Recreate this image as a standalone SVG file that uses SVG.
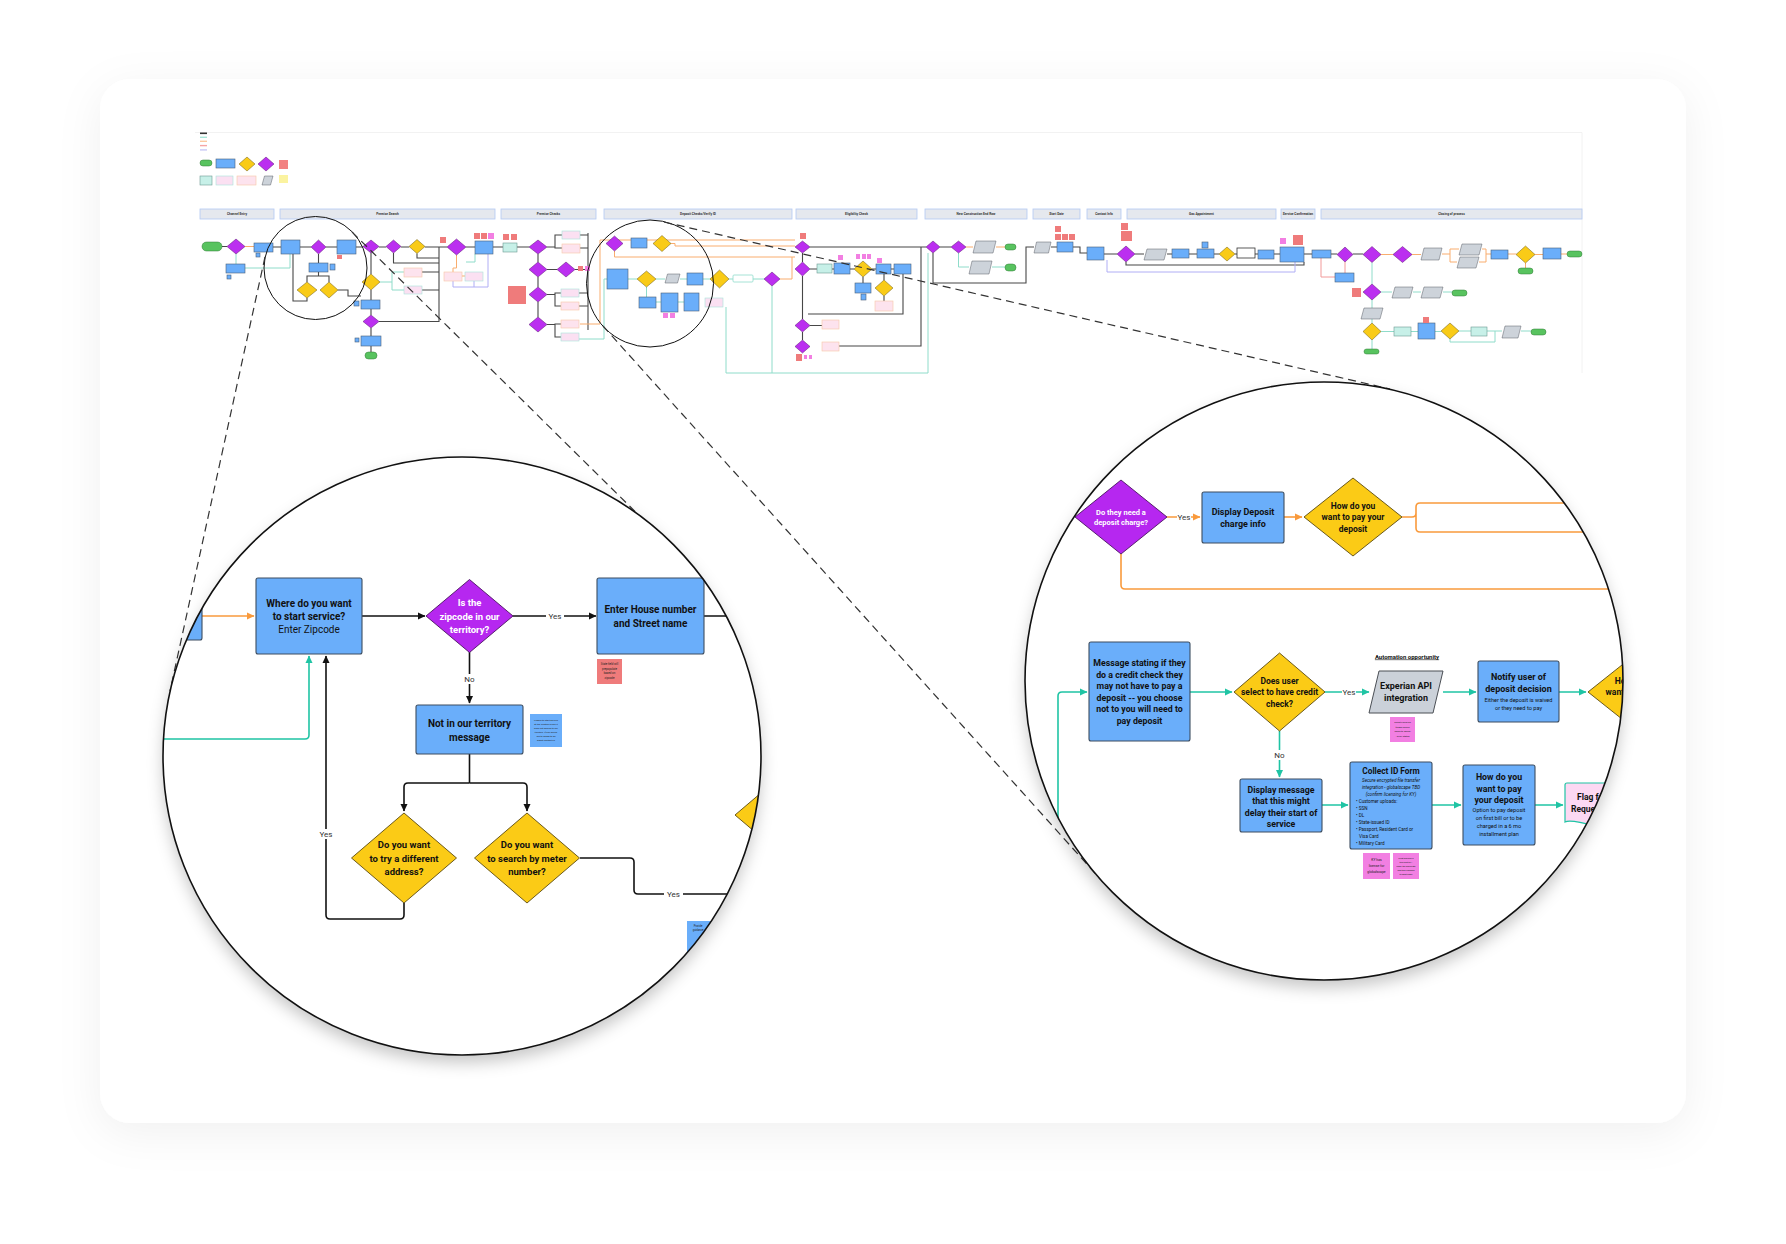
<svg xmlns="http://www.w3.org/2000/svg" width="1786" height="1244" viewBox="0 0 1786 1244">
<defs>
<style>
.nb{fill:#6aaefa;stroke:#3c4d60;stroke-width:1.1}
.np{fill:#b627f0;stroke:#4a1460;stroke-width:0.9}
.ny{fill:#fbcb16;stroke:#5a4a10;stroke-width:0.9}
.ng{fill:#cbd1d9;stroke:#4b4f55;stroke-width:1}
.mb{fill:#6aaefa;stroke:#4a6078;stroke-width:0.6}
.mp{fill:#bb2ff0;stroke:#5a1a70;stroke-width:0.5}
.my{fill:#f9cb17;stroke:#6b5a1a;stroke-width:0.5}
.mg{fill:#cdd3da;stroke:#5b5f66;stroke-width:0.5}
.mgr{fill:#58c35f;stroke:#2f7a35;stroke-width:0.5}
.mt{fill:#c7f0e8;stroke:#6d9a92;stroke-width:0.6}
.mdt{fill:#fbe0f2;stroke:#a9e3da;stroke-width:0.6}
.mdo{fill:#fde3ee;stroke:#f8c7a5;stroke-width:0.6}
.rn{fill:#ef7b7b}
.pn{fill:#f27fe2}
.hb{fill:#e5e8ee;stroke:#b2c9f2;stroke-width:0.8}
.ht{font-family:Roboto,"Liberation Sans",sans-serif;font-size:3.2px;font-weight:700;fill:#333;text-anchor:middle;dominant-baseline:central}
.lk{fill:none;stroke:#474747;stroke-width:1.1}
.lt{fill:none;stroke:#8fdcca;stroke-width:1}
.lo{fill:none;stroke:#f9ad6e;stroke-width:1}
.ll{fill:none;stroke:#b0aef5;stroke-width:1}
.lr{fill:none;stroke:#f29a9a;stroke-width:1}
.ck{fill:none;stroke:#111;stroke-width:1.6;stroke-linejoin:round}
.co{fill:none;stroke:#f99a3c;stroke-width:1.6;stroke-linejoin:round}
.ct{fill:none;stroke:#1fc4a4;stroke-width:1.6;stroke-linejoin:round}
.tb{font-family:Roboto,"Liberation Sans",sans-serif;font-weight:700;fill:#111;text-anchor:middle;dominant-baseline:central}
.tn{font-family:Roboto,"Liberation Sans",sans-serif;font-weight:400;fill:#111;text-anchor:middle;dominant-baseline:central}
.tw{font-family:Roboto,"Liberation Sans",sans-serif;font-weight:700;fill:#fff;text-anchor:middle;dominant-baseline:central}
.lab{font-family:Roboto,"Liberation Sans",sans-serif;font-size:8px;fill:#333;text-anchor:middle;dominant-baseline:central}
.tiny{font-family:Roboto,"Liberation Sans",sans-serif;fill:#222;text-anchor:middle;dominant-baseline:central}
.dash{fill:none;stroke:#333;stroke-width:1.2;stroke-dasharray:8 5}
</style>
<marker id="ak" markerWidth="8" markerHeight="8" refX="7" refY="4" orient="auto" markerUnits="userSpaceOnUse"><path d="M0,0.5 L7.5,4 L0,7.5 z" fill="#111"/></marker>
<marker id="ao" markerWidth="8" markerHeight="8" refX="7" refY="4" orient="auto" markerUnits="userSpaceOnUse"><path d="M0,0.5 L7.5,4 L0,7.5 z" fill="#f99a3c"/></marker>
<marker id="at" markerWidth="8" markerHeight="8" refX="7" refY="4" orient="auto" markerUnits="userSpaceOnUse"><path d="M0,0.5 L7.5,4 L0,7.5 z" fill="#1fc4a4"/></marker>
<filter id="cs" x="-10%" y="-10%" width="120%" height="125%"><feDropShadow dx="0" dy="10" stdDeviation="22" flood-color="#000" flood-opacity="0.06"/></filter>
<filter id="sh" x="-20%" y="-20%" width="140%" height="150%"><feDropShadow dx="0" dy="8" stdDeviation="8" flood-color="#000" flood-opacity="0.22"/></filter>
<clipPath id="cL"><circle cx="462" cy="756" r="299"/></clipPath>
<clipPath id="cR"><circle cx="1324" cy="681" r="299"/></clipPath>
</defs>

<rect x="0" y="0" width="1786" height="1244" fill="#ffffff"/>
<rect id="card" x="100" y="79" width="1586" height="1044" rx="30" fill="#ffffff" filter="url(#cs)"/>

<g id="minimap">
<path d="M195 132.5H1582V373" fill="none" stroke="#efefef" stroke-width="0.8"/>
<g id="legend">
<rect x="200" y="132.5" width="7" height="1.6" fill="#333"/>
<rect x="200" y="136.6" width="7" height="1.4" fill="#a8e6d8"/>
<rect x="200" y="140.6" width="7" height="1.4" fill="#fbc9a0"/>
<rect x="200" y="144.9" width="7" height="1.4" fill="#f6a5a5"/>
<rect x="200" y="149.2" width="7" height="1.4" fill="#c9c9f5"/>
<rect x="200" y="160" width="12" height="6" rx="3" class="mgr"/>
<rect x="216" y="159" width="19" height="9" class="mb"/>
<polygon points="239,164 247,157 255,164 247,171" class="my"/>
<polygon points="258,164 266,157 274,164 266,171" class="mp"/>
<rect x="279" y="160" width="9" height="9" fill="#f28282"/>
<rect x="200" y="176" width="12" height="9" class="mt"/>
<rect x="216" y="176" width="17" height="9" class="mdt"/>
<rect x="237" y="176" width="19" height="9" class="mdo"/>
<polygon points="264.5,176 273,176 270.5,185 262,185" class="mg"/>
<rect x="279" y="175" width="9" height="8" fill="#fbf3a0"/>
</g>
<g id="headers">
<rect x="200" y="209" width="74" height="10" class="hb"/><text x="237" y="214" class="ht">Channel Entry</text>
<rect x="280" y="209" width="215" height="10" class="hb"/><text x="387.5" y="214" class="ht">Premise Search</text>
<rect x="501" y="209" width="95" height="10" class="hb"/><text x="548.5" y="214" class="ht">Premise Checks</text>
<rect x="604" y="209" width="188" height="10" class="hb"/><text x="698" y="214" class="ht">Deposit Checks/Verify ID</text>
<rect x="796" y="209" width="121" height="10" class="hb"/><text x="856.5" y="214" class="ht">Eligibility Check</text>
<rect x="925" y="209" width="102" height="10" class="hb"/><text x="976" y="214" class="ht">New Construction End Row</text>
<rect x="1033" y="209" width="47" height="10" class="hb"/><text x="1056.5" y="214" class="ht">Start Date</text>
<rect x="1087" y="209" width="34" height="10" class="hb"/><text x="1104" y="214" class="ht">Contact Info</text>
<rect x="1127" y="209" width="149" height="10" class="hb"/><text x="1201.5" y="214" class="ht">Gas Appointment</text>
<rect x="1281" y="209" width="34" height="10" class="hb"/><text x="1298" y="214" class="ht">Service Confirmation</text>
<rect x="1321" y="209" width="261" height="10" class="hb"/><text x="1451.5" y="214" class="ht">Closing of process</text>
</g>

<g id="mini-connectors">
<path class="lk" d="M222 246.5H227M273 247H281M300 247H311M326 247H337M356 247H363M379 247H386M401 247H409M425 247H447M466 247H475M493 247H503M517 247H529"/>
<path class="lo" d="M245 246.5H254"/>
<path class="lt" d="M236 254V264M245 268H290V254"/>
<path class="lk" d="M318.5 254V263M318.5 272V276H307V282M318.5 276H329V282M307 298V301H293V254M338 290H348V296H361"/>
<path class="lk" d="M371 253V274M371 290V300M371 309V315M371 328V336M371 346V352M379 321.5H439V247M393.5 253V263H439M422 272H439M422 290H439M417 253.5V258H439"/>
<path class="lt" d="M380 282H392V272H404M392 282V290H404"/>
<path class="lo" d="M456.5 255V268H453V272M462 276H465"/>
<path class="ll" d="M453 281V287H488V254M474 281V287"/>
<path class="lt" d="M466 262H475V254"/>
<path class="lk" d="M547 247H555V235H562M555 247V248H562M547 269.5H557M575 269.5H588M580 235H588M580 248H588M588 233V330M547 294.5H555V293H561M555 294.5V306H561M579 293H588M579 306H588M547 324.5H555V324H561M555 324.5V337H561"/>
<path class="lk" d="M538 254V262M538 277V287M538 302V317"/>
<path class="lo" d="M580 324H600V240H795M671 243.5H675V246H795M614.5 251V257H795M780 279H792V257"/>
<path class="lt" d="M566 339H604V279H607M628 279H637M656 279H665M680 279H687M703 279H710M729 279H733M753 279H764M646.5 287V297M656 302H661M678 302H684M726 307V373H928V253M772 286V373"/>
<path class="lk" d="M810 247H926M921 247V346H839M808 314H903V274M802.5 253V262M802.5 276V319M802.5 332V340M810 269H817M832 269H834M850 269H854M872 269H876M891 269H894M863 277V283M884 296V301M884 280V274M810 325.5H822"/>
<path class="lk" d="M940 247H951M933 253V283H1026V247H1034M1051 247H1057M1073 247H1080V253H1087M1104 254H1117M1135 254H1144M1167 254H1172M1189 254H1197M1213 254H1219M1235 254H1237M1255 254H1258M1274 254H1280M1304 254H1312M1331 254H1337M1353 254H1363M1126 262V265H1304V262"/>
<path class="lo" d="M966 247H973M996 247H1005M1381 254.5H1393M1412 254.5H1421M1442 254H1450V249H1459M1450 254V262H1457M1482 249H1486V254H1491M1479 262H1486V254M1508 254H1516M1535 254.5H1543M1561 254H1567M1525.5 263V268"/>
<path class="lt" d="M958.5 253V267H969M992 267H1005"/>
<path class="ll" d="M1107 260V272H1295V262"/>
<path class="lr" d="M1321 258V277H1335M1345 262V273"/>
<path class="lt" d="M1372 262.5V284M1372 300V308M1372 319V323M1372 340V349M1381 292H1392M1413 292H1421M1443 292H1452M1381 331.5H1394M1411 331.5H1418M1435 331.5H1441M1459 331H1471M1487 331H1502M1521 331H1531M1450 339V342H1495V331"/>
</g>

<g id="mini-nodes">
<rect x="202" y="242" width="20" height="9" rx="4.5" class="mgr"/>
<polygon points="227,246.5 236,239 245,246.5 236,254" class="mp"/>
<rect x="254" y="243" width="19" height="9" class="mb"/>
<rect x="226" y="264" width="19" height="9" class="mb"/>
<rect x="256" y="253" width="4" height="4" class="mb"/>
<rect x="227" y="275" width="4" height="4" class="mb"/>
<rect x="281" y="240" width="19" height="14" class="mb"/>
<polygon points="311,247 318.5,240 326,247 318.5,254" class="mp"/>
<rect x="337" y="240" width="19" height="14" class="mb"/>
<rect x="337" y="255" width="5" height="4" class="rn"/>
<rect x="309" y="263" width="19" height="9" class="mb"/>
<rect x="330" y="264" width="5" height="6" class="mb"/>
<polygon points="297,290 307,282 317,290 307,298" class="my"/>
<polygon points="320,290 329,282 338,290 329,298" class="my"/>
<polygon points="363,246.5 371,240 379,246.5 371,253" class="mp"/>
<polygon points="386,246.5 393.5,240 401,246.5 393.5,253" class="mp"/>
<polygon points="409,246.5 417,239.5 425,246.5 417,253.5" class="my"/>
<rect x="440" y="237" width="6" height="6" class="rn"/>
<polygon points="447,247 456.5,239 466,247 456.5,255" class="mp"/>
<rect x="475" y="241" width="18" height="13" class="mb"/>
<rect x="474" y="233" width="6" height="6" class="rn"/>
<rect x="481" y="233" width="6" height="6" class="rn"/>
<rect x="488" y="233" width="6" height="6" class="pn"/>
<rect x="444" y="272" width="18" height="9" class="mdo"/>
<rect x="465" y="272" width="18" height="9" class="mdt"/>
<polygon points="362,282 371,274 380,282 371,290" class="my"/>
<rect x="404" y="268" width="18" height="9" class="mdo"/>
<rect x="404" y="286" width="18" height="8" class="mdt"/>
<rect x="361" y="300" width="19" height="9" class="mb"/>
<rect x="354" y="301" width="5" height="5" class="mb"/>
<polygon points="363,321.5 371,315 379,321.5 371,328" class="mp"/>
<rect x="361" y="336" width="20" height="10" class="mb"/>
<rect x="355" y="338" width="4" height="4" class="mb"/>
<rect x="365" y="352" width="12" height="7" rx="3.5" class="mgr"/>
<rect x="503" y="234" width="6" height="6" class="rn"/>
<rect x="511" y="234" width="6" height="6" class="rn"/>
<rect x="503" y="243" width="14" height="9" class="mt"/>
<polygon points="529,247 538,240 547,247 538,254" class="mp"/>
<rect x="562" y="231" width="18" height="8" class="mdt"/>
<rect x="562" y="244" width="18" height="9" class="mdo"/>
<polygon points="529,269.5 538,262 547,269.5 538,277" class="mp"/>
<polygon points="557,269.5 566,262 575,269.5 566,277" class="mp"/>
<rect x="578" y="266" width="5" height="5" class="rn"/>
<rect x="585" y="266" width="5" height="5" class="pn"/>
<rect x="508" y="286" width="18" height="18" class="rn"/>
<polygon points="529,294.5 538,287 547,294.5 538,302" class="mp"/>
<rect x="561" y="289" width="18" height="8" class="mdt"/>
<rect x="561" y="302" width="18" height="8" class="mdo"/>
<polygon points="529,324.5 538,317 547,324.5 538,332" class="mp"/>
<rect x="561" y="320" width="18" height="8" class="mdo"/>
<rect x="561" y="333" width="18" height="8" class="mdt"/>
<polygon points="606,243.5 614.5,236 623,243.5 614.5,251" class="mp"/>
<rect x="631" y="238" width="16" height="10" class="mb"/>
<polygon points="653,243.5 662,235.5 671,243.5 662,251.5" class="my"/>
<rect x="607" y="269" width="21" height="20" class="mb"/>
<polygon points="637,279 646.5,271 656,279 646.5,287" class="my"/>
<polygon points="667.5,274 680,274 677.5,283 665,283" class="mg"/>
<rect x="687" y="273" width="16" height="12" class="mb"/>
<rect x="639" y="297" width="17" height="11" class="mb"/>
<rect x="661" y="293" width="17" height="19" class="mb"/>
<rect x="663" y="313" width="5" height="5" class="pn"/>
<rect x="670" y="313" width="5" height="5" class="pn"/>
<rect x="684" y="293" width="15" height="18" class="mb"/>
<rect x="705" y="298" width="18" height="9" class="mdt"/>
<polygon points="710,279 719.5,270 729,279 719.5,288" class="my"/>
<rect x="733" y="275" width="20" height="7" rx="1" fill="#fff" stroke="#8fdccb" stroke-width="0.8"/>
<polygon points="764,279 772,272 780,279 772,286" class="mp"/>
<rect x="800" y="233" width="6" height="6" class="rn"/>
<polygon points="795,247 802.5,241 810,247 802.5,253" class="mp"/>
<polygon points="795,269 802.5,262 810,269 802.5,276" class="mp"/>
<rect x="817" y="264" width="15" height="9" class="mt"/>
<rect x="834" y="263" width="16" height="11" class="mb"/>
<rect x="838" y="255" width="5" height="5" class="pn"/>
<polygon points="854,269 863,261 872,269 863,277" class="my"/>
<rect x="856" y="254" width="4" height="5" class="pn"/>
<rect x="862" y="254" width="4" height="5" class="pn"/>
<rect x="867" y="254" width="4" height="5" class="pn"/>
<rect x="877" y="258" width="5" height="5" class="pn"/>
<rect x="876" y="264" width="15" height="10" class="mb"/>
<rect x="894" y="264" width="17" height="10" class="mb"/>
<rect x="855" y="283" width="16" height="10" class="mb"/>
<rect x="861" y="294" width="5" height="6" class="mb"/>
<polygon points="875,288 884,280 893,288 884,296" class="my"/>
<rect x="875" y="301" width="18" height="10" class="mdo"/>
<polygon points="795,325.5 802.5,319 810,325.5 802.5,332" class="mp"/>
<rect x="822" y="320" width="17" height="9" class="mdo"/>
<polygon points="795,346.5 802.5,340 810,346.5 802.5,353" class="mp"/>
<rect x="822" y="342" width="17" height="9" class="mdo"/>
<rect x="796" y="354" width="6" height="7" class="rn"/>
<rect x="804" y="355" width="3" height="4" class="pn"/>
<rect x="809" y="355" width="3" height="4" class="pn"/>
<polygon points="926,247 933,241 940,247 933,253" class="mp"/>
<polygon points="951,247 958.5,241 966,247 958.5,253" class="mp"/>
<polygon points="976,241 996,241 993,253 973,253" class="mg"/>
<polygon points="972,261 992,261 989,274 969,274" class="mg"/>
<rect x="1005" y="244" width="11" height="6" rx="3" class="mgr"/>
<rect x="1005" y="264" width="11" height="7" rx="3.5" class="mgr"/>
<polygon points="1036.5,242 1051,242 1048.5,253 1034,253" class="mg"/>
<rect x="1057" y="242" width="16" height="10" class="mb"/>
<rect x="1055" y="226" width="6" height="6" class="rn"/>
<rect x="1055" y="234" width="6" height="6" class="rn"/>
<rect x="1062" y="234" width="6" height="6" class="rn"/>
<rect x="1069" y="234" width="6" height="6" class="rn"/>
<rect x="1087" y="247" width="17" height="13" class="mb"/>
<rect x="1121" y="223" width="7" height="7" class="rn"/>
<rect x="1121" y="231" width="11" height="10" class="rn"/>
<polygon points="1117,254 1126,246 1135,254 1126,262" class="mp"/>
<polygon points="1147,249 1167,249 1164,260 1144,260" class="mg"/>
<rect x="1172" y="249" width="17" height="9" class="mb"/>
<rect x="1197" y="249" width="17" height="9" class="mb"/>
<rect x="1202" y="242" width="6" height="6" class="mb"/>
<polygon points="1219,254 1227,247 1235,254 1227,261" class="my"/>
<rect x="1237" y="248" width="18" height="10" fill="#fff" stroke="#333" stroke-width="0.8"/>
<rect x="1258" y="250" width="16" height="9" class="mb"/>
<rect x="1280" y="247" width="24" height="15" class="mb"/>
<rect x="1280" y="238" width="6" height="6" class="pn"/>
<rect x="1293" y="235" width="10" height="10" class="rn"/>
<rect x="1312" y="250" width="19" height="8" class="mb"/>
<polygon points="1337,254.5 1345,247 1353,254.5 1345,262" class="mp"/>
<polygon points="1363,254.5 1372,246.5 1381,254.5 1372,262.5" class="mp"/>
<polygon points="1393,254.5 1402.5,246.5 1412,254.5 1402.5,262.5" class="mp"/>
<polygon points="1424,248 1442,248 1439,260 1421,260" class="mg"/>
<polygon points="1462,244 1482,244 1479,255 1459,255" class="mg"/>
<polygon points="1460,257 1479,257 1476,268 1457,268" class="mg"/>
<rect x="1491" y="250" width="17" height="9" class="mb"/>
<polygon points="1516,254.5 1525.5,246 1535,254.5 1525.5,263" class="my"/>
<rect x="1518" y="268" width="15" height="6" rx="3" class="mgr"/>
<rect x="1543" y="248" width="18" height="11" class="mb"/>
<rect x="1567" y="251" width="15" height="6" rx="3" class="mgr"/>
<rect x="1335" y="273" width="19" height="9" class="mb"/>
<rect x="1352" y="288" width="9" height="9" class="rn"/>
<polygon points="1363,292 1372,284 1381,292 1372,300" class="mp"/>
<polygon points="1395,287 1413,287 1410,298 1392,298" class="mg"/>
<polygon points="1424,287 1443,287 1440,298 1421,298" class="mg"/>
<rect x="1452" y="290" width="15" height="6" rx="3" class="mgr"/>
<polygon points="1364,308 1383,308 1380,319 1361,319" class="mg"/>
<polygon points="1363,331.5 1372,323 1381,331.5 1372,340" class="my"/>
<rect x="1364" y="349" width="15" height="5" rx="2.5" class="mgr"/>
<rect x="1394" y="327" width="17" height="9" class="mt"/>
<rect x="1418" y="323" width="17" height="16" class="mb"/>
<rect x="1423" y="317" width="6" height="6" class="rn"/>
<polygon points="1441,331 1450,323 1459,331 1450,339" class="my"/>
<rect x="1471" y="327" width="16" height="9" class="mt"/>
<polygon points="1505,326 1521,326 1518,338 1502,338" class="mg"/>
<rect x="1531" y="329" width="15" height="6" rx="3" class="mgr"/>
</g>
</g>

<g id="zoom-markers">
<circle cx="315.5" cy="268" r="51.5" fill="none" stroke="#111" stroke-width="1"/>
<circle cx="650" cy="283.5" r="63.5" fill="none" stroke="#111" stroke-width="1"/>
<line class="dash" x1="265" y1="257" x2="170" y2="691"/>
<line class="dash" x1="352" y1="232" x2="671" y2="547"/>
<line class="dash" x1="603" y1="326" x2="1103" y2="882"/>
<line class="dash" x1="664" y1="222" x2="1390" y2="389"/>
</g>

<!-- LEFT MAGNIFIER -->
<circle cx="462" cy="756" r="299" fill="#fff" filter="url(#sh)"/>
<g id="left-zoom" clip-path="url(#cL)">
<g id="left-connectors">
<path class="co" d="M202 616H254" marker-end="url(#ao)"/>
<path class="ck" d="M362 616H425" marker-end="url(#ak)"/>
<path class="ck" d="M513 616H596" marker-end="url(#ak)"/>
<rect x="546" y="611" width="18" height="10" fill="#fff"/>
<text x="555" y="616" class="lab">Yes</text>
<path class="ck" d="M704 616H790"/>
<path class="ck" d="M469.5 652V703" marker-end="url(#ak)"/>
<rect x="462" y="674" width="15" height="10" fill="#fff"/>
<text x="469.5" y="679" class="lab">No</text>
<path class="ct" d="M140 739H305Q309 739 309 735V656" marker-end="url(#at)"/>
<path class="ck" d="M404 903V915Q404 919 400 919H330Q326 919 326 915V656" marker-end="url(#ak)"/>
<rect x="317" y="829" width="18" height="10" fill="#fff"/>
<text x="326" y="834" class="lab">Yes</text>
<path class="ck" d="M469.5 754V783"/>
<path class="ck" d="M469.5 783H408Q404 783 404 787V811" marker-end="url(#ak)"/>
<path class="ck" d="M469.5 783H523Q527 783 527 787V811" marker-end="url(#ak)"/>
<path class="ck" d="M580 858H630Q634 858 634 862V890Q634 894 638 894H790"/>
<rect x="664" y="889" width="19" height="10" fill="#fff"/>
<text x="673.5" y="894" class="lab">Yes</text>
</g>
<g id="n-prev"><rect x="130" y="607" width="72" height="33" rx="2" class="nb"/></g>
<g id="n-where">
<rect x="256" y="578" width="106" height="76" rx="2" class="nb"/>
<text x="309" y="603" class="tb" font-size="10">Where do you want</text>
<text x="309" y="616" class="tb" font-size="10">to start service?</text>
<text x="309" y="629" class="tn" font-size="10">Enter Zipcode</text>
</g>
<g id="n-zip">
<polygon points="426,616 469.5,579.5 513,616 469.5,652.5" class="np"/>
<text x="469.5" y="602.5" class="tw" font-size="9.5">Is the</text>
<text x="469.5" y="616" class="tw" font-size="9.5">zipcode in our</text>
<text x="469.5" y="629.5" class="tw" font-size="9.5">territory?</text>
</g>
<g id="n-house">
<rect x="597" y="578" width="107" height="76" rx="2" class="nb"/>
<text x="650.5" y="609" class="tb" font-size="10">Enter House number</text>
<text x="650.5" y="623" class="tb" font-size="10">and Street name</text>
</g>
<g id="note-state">
<rect x="597" y="659" width="25" height="25" class="rn"/>
<text x="609.5" y="664" class="tiny" font-size="2.8">State field will</text>
<text x="609.5" y="668.5" class="tiny" font-size="2.8">prepopulate</text>
<text x="609.5" y="673" class="tiny" font-size="2.8">based on</text>
<text x="609.5" y="677.5" class="tiny" font-size="2.8">zipcode</text>
</g>
<g id="n-notterr">
<rect x="416" y="705" width="107" height="49" rx="2" class="nb"/>
<text x="469.5" y="723" class="tb" font-size="10">Not in our territory</text>
<text x="469.5" y="737" class="tb" font-size="10">message</text>
</g>
<g id="note-unable">
<rect x="530" y="714" width="32" height="33" fill="#6aaefa"/>
<text x="546" y="720" class="tiny" font-size="2.4">Unable to start service</text>
<text x="546" y="724" class="tiny" font-size="2.4">at the location since it</text>
<text x="546" y="728" class="tiny" font-size="2.4">does not belong to our</text>
<text x="546" y="732" class="tiny" font-size="2.4">territory. If you would</text>
<text x="546" y="736" class="tiny" font-size="2.4">like to speak to an</text>
<text x="546" y="740" class="tiny" font-size="2.4">agent contact us</text>
</g>
<g id="n-tryaddr">
<polygon points="351.5,858 404,813 456.5,858 404,903" class="ny"/>
<text x="404" y="844.5" class="tb" font-size="9.5">Do you want</text>
<text x="404" y="858" class="tb" font-size="9.5">to try a different</text>
<text x="404" y="871.5" class="tb" font-size="9.5">address?</text>
</g>
<g id="n-meter">
<polygon points="474.5,858 527,813 579.5,858 527,903" class="ny"/>
<text x="527" y="844.5" class="tb" font-size="9.5">Do you want</text>
<text x="527" y="858" class="tb" font-size="9.5">to search by meter</text>
<text x="527" y="871.5" class="tb" font-size="9.5">number?</text>
</g>
<g id="n-next"><polygon points="735,815 788,770 841,815 788,860" class="ny"/></g>
<g id="note-provide">
<rect x="687" y="921" width="40" height="42" fill="#6aaefa"/>
<text x="698" y="926" class="tiny" font-size="2.6">Provide</text>
<text x="698" y="930.5" class="tiny" font-size="2.6">guidance</text>
</g>
</g>
<circle cx="462" cy="756" r="299" fill="none" stroke="#111" stroke-width="1.6"/>

<!-- RIGHT MAGNIFIER -->
<circle cx="1324" cy="681" r="299" fill="#fff" filter="url(#sh)"/>
<g id="right-zoom" clip-path="url(#cR)">
<g id="right-connectors">
<path class="co" d="M1167 517H1200" marker-end="url(#ao)"/>
<rect x="1177" y="512" width="14" height="10" fill="#fff"/>
<text x="1184" y="517" class="lab" font-size="7">Yes</text>
<path class="co" d="M1284 517H1302" marker-end="url(#ao)"/>
<path class="co" d="M1402 517H1412Q1416 517 1416 513V507Q1416 503 1420 503H1650M1416 513V528Q1416 532 1420 532H1650"/>
<path class="co" d="M1121 554V585Q1121 589 1125 589H1650"/>
<path class="ct" d="M1058 900V696Q1058 692 1062 692H1087" marker-end="url(#at)"/>
<path class="ct" d="M1190 692H1232" marker-end="url(#at)"/>
<path class="ct" d="M1325 692H1369" marker-end="url(#at)"/>
<rect x="1342" y="687" width="14" height="10" fill="#fff"/>
<text x="1349" y="692" class="lab" font-size="7">Yes</text>
<path class="ct" d="M1443 692H1476" marker-end="url(#at)"/>
<path class="ct" d="M1559 692H1586" marker-end="url(#at)"/>
<path class="ct" d="M1279.5 731V777" marker-end="url(#at)"/>
<rect x="1273" y="750" width="13" height="10" fill="#fff"/>
<text x="1279.5" y="755" class="lab" font-size="7">No</text>
<path class="ct" d="M1322 805H1348" marker-end="url(#at)"/>
<path class="ct" d="M1432 805H1461" marker-end="url(#at)"/>
<path class="ct" d="M1535 805H1563" marker-end="url(#at)"/>
</g>
<g id="n-needdep">
<polygon points="1075,517 1121,480 1167,517 1121,554" class="np"/>
<text x="1121" y="512.5" class="tw" font-size="7.5">Do they need a</text>
<text x="1121" y="522" class="tw" font-size="7.5">deposit charge?</text>
</g>
<g id="n-dispdep">
<rect x="1202" y="492" width="82" height="51" rx="2" class="nb"/>
<text x="1243" y="512" class="tb" font-size="9">Display Deposit</text>
<text x="1243" y="524" class="tb" font-size="9">charge info</text>
</g>
<g id="n-howpay1">
<polygon points="1304,517 1353,478 1402,517 1353,556" class="ny"/>
<text x="1353" y="505.5" class="tb" font-size="8.5">How do you</text>
<text x="1353" y="517" class="tb" font-size="8.5">want to pay your</text>
<text x="1353" y="528.5" class="tb" font-size="8.5">deposit</text>
</g>
<g id="n-msg">
<rect x="1089" y="642" width="101" height="99" rx="2" class="nb"/>
<text x="1139.5" y="663" class="tb" font-size="8.8">Message stating if they</text>
<text x="1139.5" y="674.5" class="tb" font-size="8.8">do a credit check they</text>
<text x="1139.5" y="686" class="tb" font-size="8.8">may not have to pay a</text>
<text x="1139.5" y="697.5" class="tb" font-size="8.8">deposit -- you choose</text>
<text x="1139.5" y="709" class="tb" font-size="8.8">not to you will need to</text>
<text x="1139.5" y="720.5" class="tb" font-size="8.8">pay deposit</text>
</g>
<g id="n-credit">
<polygon points="1234,692 1279.5,653 1325,692 1279.5,731" class="ny"/>
<text x="1279.5" y="680.5" class="tb" font-size="8.5">Does user</text>
<text x="1279.5" y="692" class="tb" font-size="8.5">select to have credit</text>
<text x="1279.5" y="703.5" class="tb" font-size="8.5">check?</text>
</g>
<g id="n-experian">
<text x="1407" y="656" class="tb" font-size="6" text-decoration="underline">Automation opportunity</text>
<polygon points="1379,671 1443,671 1433,713 1369,713" class="ng"/>
<text x="1406" y="686" class="tb" font-size="9">Experian API</text>
<text x="1406" y="697.5" class="tb" font-size="9">integration</text>
</g>
<g id="note-credit">
<rect x="1390" y="717" width="25" height="25" class="pn"/>
<text x="1402.5" y="722.5" class="tiny" font-size="2.5">Credit could be</text>
<text x="1402.5" y="727" class="tiny" font-size="2.5">frozen which</text>
<text x="1402.5" y="731.5" class="tiny" font-size="2.5">leads to denial</text>
<text x="1402.5" y="736" class="tiny" font-size="2.5">- error states</text>
</g>
<g id="n-notify">
<rect x="1478" y="661" width="81" height="61" rx="2" class="nb"/>
<text x="1518.5" y="677" class="tb" font-size="9">Notify user of</text>
<text x="1518.5" y="688.5" class="tb" font-size="9">deposit decision</text>
<text x="1518.5" y="699.5" class="tn" font-size="5.6" fill="#223">Either the deposit is waived</text>
<text x="1518.5" y="707.5" class="tn" font-size="5.6" fill="#223">or they need to pay</text>
</g>
<g id="n-howpay2">
<polygon points="1588,692 1637,653 1686,692 1637,731" class="ny"/>
<text x="1637" y="680.5" class="tb" font-size="8.5">How do you</text>
<text x="1637" y="692" class="tb" font-size="8.5">want to pay your</text>
<text x="1637" y="703.5" class="tb" font-size="8.5">deposit</text>
</g>
<g id="n-delay">
<rect x="1240" y="779" width="82" height="53" rx="2" class="nb"/>
<text x="1281" y="789.5" class="tb" font-size="8.8">Display message</text>
<text x="1281" y="801" class="tb" font-size="8.8">that this might</text>
<text x="1281" y="812.5" class="tb" font-size="8.8">delay their start of</text>
<text x="1281" y="824" class="tb" font-size="8.8">service</text>
</g>
<g id="n-collect">
<rect x="1350" y="762" width="82" height="87" rx="2" class="nb"/>
<text x="1391" y="771" class="tb" font-size="8.3">Collect ID Form</text>
<text x="1391" y="780" class="tn" font-size="4.6" font-style="italic">Secure encrypted file transfer</text>
<text x="1391" y="787" class="tn" font-size="4.6" font-style="italic">integration - globalscape TBD</text>
<text x="1391" y="794" class="tn" font-size="4.6" font-style="italic">(confirm licensing for KY)</text>
<g class="tn" font-size="4.6" style="text-anchor:start">
<text x="1356" y="801">• Customer uploads:</text>
<text x="1356" y="808">• SSN</text>
<text x="1356" y="815">• DL</text>
<text x="1356" y="822">• State-issued ID</text>
<text x="1356" y="829">• Passport, Resident Card or</text>
<text x="1359" y="836">Visa Card</text>
<text x="1356" y="843">• Military Card</text>
</g>
</g>
<g id="note-ky">
<rect x="1363" y="853" width="27" height="26" class="pn"/>
<text x="1376.5" y="860" class="tiny" font-size="3.4">KY has</text>
<text x="1376.5" y="866" class="tiny" font-size="3.4">license for</text>
<text x="1376.5" y="872" class="tiny" font-size="3.4">globalscape</text>
</g>
<g id="note-mailbox">
<rect x="1393" y="853" width="26" height="26" class="pn"/>
<text x="1406" y="858" class="tiny" font-size="2.2">What mailbox is</text>
<text x="1406" y="862" class="tiny" font-size="2.2">this sent to? -</text>
<text x="1406" y="866" class="tiny" font-size="2.2">email the associate</text>
<text x="1406" y="870" class="tiny" font-size="2.2">and they suspend</text>
<text x="1406" y="874" class="tiny" font-size="2.2">to what email</text>
</g>
<g id="n-howpay3">
<rect x="1463" y="765" width="72" height="80" rx="2" class="nb"/>
<text x="1499" y="777" class="tb" font-size="8.8">How do you</text>
<text x="1499" y="788.5" class="tb" font-size="8.8">want to pay</text>
<text x="1499" y="800" class="tb" font-size="8.8">your deposit</text>
<text x="1499" y="810" class="tn" font-size="5.6" fill="#223">Option to pay deposit</text>
<text x="1499" y="818" class="tn" font-size="5.6" fill="#223">on first bill or to be</text>
<text x="1499" y="826" class="tn" font-size="5.6" fill="#223">charged in a 6 mo</text>
<text x="1499" y="834" class="tn" font-size="5.6" fill="#223">installment plan</text>
</g>
<g id="n-flag">
<path d="M1567 783H1650V822Q1620 833 1595 826T1565 822V785Q1565 783 1567 783Z" fill="#fcd8f3" stroke="#1fc4a4" stroke-width="1.2"/>
<text x="1577" y="797" class="tb" font-size="8.5" style="text-anchor:start">Flag for</text>
<text x="1571" y="808.5" class="tb" font-size="8.5" style="text-anchor:start">Request</text>
</g>
</g>
<circle cx="1324" cy="681" r="299" fill="none" stroke="#111" stroke-width="1.6"/>
</svg>
